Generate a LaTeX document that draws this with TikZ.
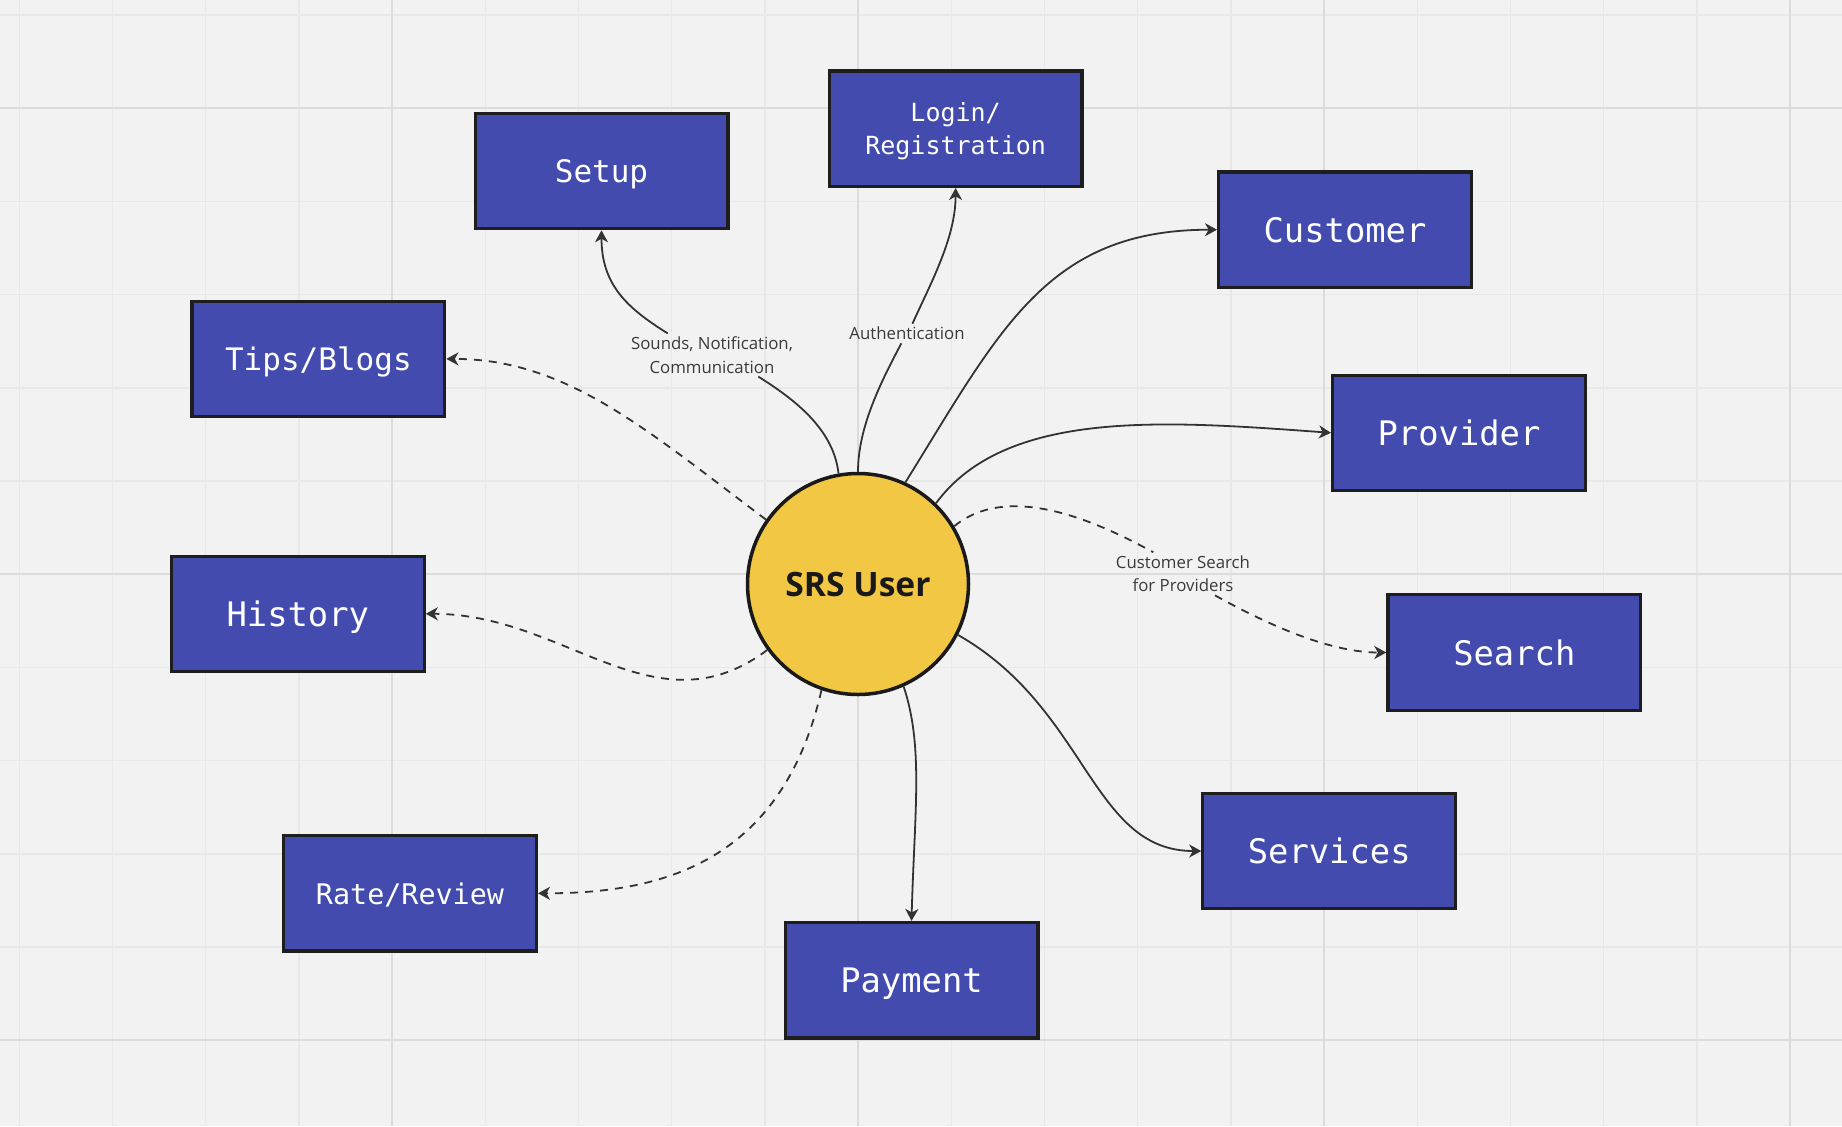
\documentclass[tikz,border=0pt]{standalone}
\usepackage{fontspec}
\setmainfont{Open Sans}
\newfontfamily\monofont{DejaVu Sans Mono}
\usetikzlibrary{arrows.meta}
\definecolor{bgc}{HTML}{F2F2F2}
\definecolor{gridminor}{HTML}{E8E8E8}
\definecolor{gridmajor}{HTML}{DCDCDC}
\definecolor{boxfill}{HTML}{434CAE}
\definecolor{boxline}{HTML}{1E1E1E}
\definecolor{userfill}{HTML}{F2C744}
\definecolor{linec}{HTML}{333333}
\definecolor{labelc}{HTML}{3A3A3A}
\begin{document}
\begin{tikzpicture}[x=0.5pt,y=-0.5pt,
  ubox/.style={draw=boxline, line width=1.6pt, fill=boxfill, minimum width=126.4pt, minimum height=57.7pt, inner sep=0pt, text=white, align=center, text depth=-2.35pt},
  fbig/.style={font=\monofont\fontsize{16.9}{20}\selectfont},
  fmid/.style={font=\monofont\fontsize{15.5}{19}\selectfont},
  fsmall/.style={font=\monofont\fontsize{14.2}{17}\selectfont},
  ftiny/.style={font=\monofont\fontsize{12.5}{16.7}\selectfont},
  lbl/.style={text=labelc, font=\fontsize{8.4}{11.7}\selectfont, align=center, inner sep=1.5pt},
  lnk/.style={draw=linec, line width=0.9pt},
  conn/.style={lnk, -{Stealth[length=6pt,width=6.5pt,inset=1.8pt]}},
  dsh/.style={dash pattern=on 4pt off 3.5pt},
]
\fill[bgc] (0,0) rectangle (1842,1126);
\useasboundingbox (0,0) rectangle (1842,1126);
% grid
\foreach \k in {0,...,19} \draw[gridminor, line width=0.75pt] ({19.3+93.2*\k},0) -- ({19.3+93.2*\k},1126);
\foreach \k in {0,...,11} \draw[gridminor, line width=0.75pt] (0,{15+93.2*\k}) -- (1842,{15+93.2*\k});
\foreach \xx in {392.1,858.1,1324.1,1790.1} \draw[gridmajor, line width=1pt] (\xx,0) -- (\xx,1126);
\foreach \yy in {108.2,574.2,1040.2} \draw[gridmajor, line width=1pt] (0,\yy) -- (1842,\yy);

% central node
\node[circle, draw=black!90, line width=1.75pt, fill=userfill, minimum size=110.5pt, inner sep=0pt,
      font=\bfseries\fontsize{16.8}{20}\selectfont, text=black!90] (user) at (858,584) {SRS User};

% boxes
\node[ubox, fmid]   (setup)    at (601.5,171)    {Setup};
\node[ubox, ftiny]  (login)    at (955.6,128.7)  {Login/\\Registration};
\node[ubox, fbig]   (customer) at (1345,229.7)   {Customer};
\node[ubox, fmid]   (tips)     at (318.4,358.9)  {Tips/Blogs};
\node[ubox, fbig]   (provider) at (1459,432.8)   {Provider};
\node[ubox, fbig]   (history)  at (297.8,613.8)  {History};
\node[ubox, fbig]   (search)   at (1514.3,652.5) {Search};
\node[ubox, fbig]   (services) at (1329.2,851)   {Services};
\node[ubox, fsmall] (review)   at (410,893.3)    {Rate/Review};
\node[ubox, fbig]   (payment)  at (911.5,980.2)  {Payment};

% labels
\node[lbl] (lbl1) at (712,355)    {Sounds, Notification,\\Communication};
\node[lbl] (lbl2) at (907,333.5)  {Authentication};
\node[lbl] (lbl3) at (1183,573.8) {Customer Search\\for Providers};

% connectors
\draw[lnk]  (user.100) .. controls +(-5,-45) and +(35,22) .. (lbl1.-25);
\draw[conn] (lbl1.154) .. controls +(-40,-25) and +(0,55) .. (setup.south);
\draw[lnk]  (user.north) .. controls +(0,-45) and +(-20,38) .. (lbl2.-120);
\draw[conn] (lbl2.61) .. controls +(18,-40) and +(0,50) .. (login.south);
\draw[conn] (user.65) .. controls +(95,-153) and +(-170,0) .. (customer.west);
\draw[conn] (user.46) .. controls +(70,-95) and +(-165,-12) .. (provider.west);
\draw[lnk,dsh]  (user.31) .. controls +(55,-45) and +(-55,-30) .. (lbl3.144);
\draw[conn,dsh] (lbl3.-34) .. controls +(45,25) and +(-60,0) .. (search.west);
\draw[conn] (user.-27) .. controls +(130,74) and +(-110,0) .. (services.west);
\draw[conn] (user.-66) .. controls +(20,60) and +(3,-110) .. (payment.north);
\draw[conn,dsh] (user.-109) .. controls +(-40,175) and +(120,0) .. (review.east);
\draw[conn,dsh] (user.216) .. controls +(-112,84) and +(140,0) .. (history.east);
\draw[conn,dsh] (user.145) .. controls +(-120,-90) and +(120,0) .. (tips.east);
\end{tikzpicture}
\end{document}
